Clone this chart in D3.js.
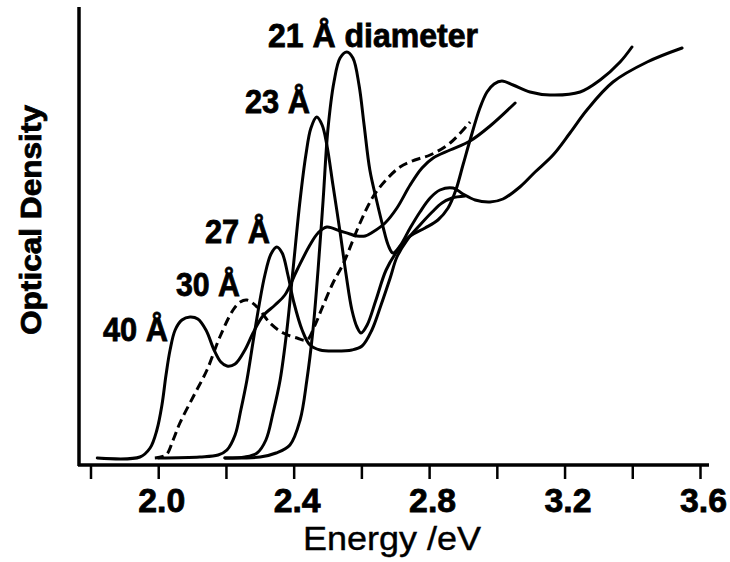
<!DOCTYPE html>
<html>
<head>
<meta charset="utf-8">
<script src="https://cdn.jsdelivr.net/npm/d3@7"></script>
<style>
  html, body { margin: 0; padding: 0; background: #fff; }
  svg { display: block; }
  text { font-family: "Liberation Sans", Arial, sans-serif; fill: #000; }
</style>
</head>
<body>
<svg id="chart" width="730" height="562"></svg>
<script>
// Absorption spectra of nanocrystals of several diameters: [energy (eV), optical density (arb.)]
const spec40 = [
  [1.82,0.07],[1.946,0.08],[1.976,0.17],[1.996,0.35],[2.011,0.60],[2.023,0.90],
  [2.035,1.15],[2.050,1.35],[2.070,1.45],[2.094,1.48],[2.117,1.46],[2.141,1.35],
  [2.165,1.15],[2.185,1.03],[2.203,0.99],[2.227,1.01],[2.256,1.15],[2.280,1.32],
  [2.309,1.49],[2.345,1.60],[2.374,1.70],[2.410,1.95],[2.448,2.20],[2.472,2.32],
  [2.498,2.38],[2.537,2.34],[2.566,2.31],[2.587,2.29],[2.611,2.29],[2.634,2.33],
  [2.670,2.42],[2.705,2.57],[2.744,2.80],[2.779,2.97],[2.812,3.07],[2.862,3.15],
  [2.921,3.24],[2.980,3.39],[3.054,3.62]
];
const spec30 = [
  [1.990,0.07],[2.023,0.10],[2.044,0.25],[2.064,0.42],[2.103,0.68],[2.144,0.95],
  [2.182,1.28],[2.221,1.55],[2.242,1.63],[2.262,1.65],[2.292,1.58],[2.330,1.42],
  [2.369,1.32],[2.410,1.27],[2.439,1.25],[2.463,1.40],[2.484,1.57],[2.516,1.82],
  [2.546,2.01],[2.596,2.42],[2.634,2.68],[2.670,2.84],[2.714,2.98],[2.758,3.05],
  [2.803,3.10],[2.862,3.22],[2.921,3.43]
];
const spec27 = [
  [2.000,0.07],[2.123,0.08],[2.177,0.10],[2.203,0.15],[2.227,0.30],[2.244,0.55],
  [2.262,0.85],[2.280,1.23],[2.298,1.60],[2.315,1.90],[2.333,2.11],[2.350,2.18],
  [2.366,2.12],[2.383,1.90],[2.401,1.62],[2.425,1.35],[2.448,1.20],[2.478,1.15],
  [2.522,1.14],[2.572,1.15],[2.602,1.19],[2.631,1.35],[2.658,1.60],[2.685,1.87],
  [2.705,2.08],[2.735,2.25],[2.773,2.40],[2.809,2.53],[2.838,2.62],[2.868,2.67],
  [2.906,2.69]
];
const spec23 = [
  [2.197,0.07],[2.256,0.08],[2.292,0.12],[2.318,0.25],[2.339,0.52],[2.360,0.85],
  [2.380,1.35],[2.398,1.95],[2.419,2.65],[2.436,3.10],[2.451,3.37],[2.468,3.48],
  [2.484,3.40],[2.498,3.20],[2.516,2.80],[2.537,2.33],[2.555,1.90],[2.572,1.55],
  [2.587,1.38],[2.599,1.32],[2.617,1.40],[2.643,1.65],[2.673,1.95],[2.708,2.15],
  [2.744,2.29],[2.788,2.37],[2.826,2.45],[2.856,2.57],[2.879,2.75],[2.900,3.00],
  [2.921,3.25],[2.950,3.57],[2.971,3.73],[2.992,3.81],[3.015,3.84],[3.048,3.80],
  [3.098,3.73],[3.157,3.70],[3.246,3.73],[3.305,3.85],[3.364,4.03],[3.399,4.18]
];
const spec21 = [
  [2.197,0.07],[2.301,0.08],[2.348,0.12],[2.389,0.20],[2.419,0.45],[2.439,0.85],
  [2.457,1.35],[2.472,1.95],[2.487,2.65],[2.501,3.35],[2.519,3.83],[2.537,4.07],
  [2.557,4.13],[2.575,4.07],[2.593,3.80],[2.608,3.40],[2.625,2.95],[2.646,2.63],
  [2.664,2.38],[2.679,2.20],[2.693,2.12],[2.714,2.19],[2.744,2.37],[2.773,2.53],
  [2.803,2.67],[2.832,2.75],[2.871,2.77],[2.900,2.71],[2.936,2.65],[2.980,2.63],
  [3.018,2.66],[3.068,2.78],[3.113,2.93],[3.166,3.10],[3.216,3.32],[3.266,3.55],
  [3.343,3.83],[3.444,4.03],[3.547,4.17]
];

const seriesNames = ["40 Å", "30 Å", "27 Å", "23 Å", "21 Å diameter"];
const xTickValues = [1.8, 2.0, 2.2, 2.4, 2.6, 2.8, 3.0, 3.2, 3.4, 3.6];
const xTickLabels = ["", "2.0", "", "2.4", "", "2.8", "", "3.2", "", "3.6"];
const xTitle = "Energy /eV";
const yTitle = "Optical Density";

const svg = d3.select("#chart");
const x = d3.scaleLinear().domain([1.8, 3.6]).range([90.5, 700]);
const y = d3.scaleLinear().domain([0, 4.58]).range([465, 7]);

const line = d3.line()
  .x(d => x(d[0]))
  .y(d => y(d[1]))
  .curve(d3.curveCatmullRom.alpha(0.5));

// spectra
const curves = [
  { data: spec40, dashed: false },
  { data: spec30, dashed: true },
  { data: spec27, dashed: false },
  { data: spec23, dashed: false },
  { data: spec21, dashed: false }
];
svg.append("g").selectAll("path")
  .data(curves)
  .join("path")
  .attr("d", d => line(d.data))
  .attr("fill", "none")
  .attr("stroke", "#000")
  .attr("stroke-width", 3)
  .attr("stroke-linejoin", "round")
  .attr("stroke-linecap", d => d.dashed ? "butt" : "round")
  .attr("stroke-dasharray", d => d.dashed ? "9,5" : null);

// axes frame
svg.append("line")
  .attr("x1", 78).attr("x2", 709).attr("y1", 465).attr("y2", 465)
  .attr("stroke", "#000").attr("stroke-width", 3.5);
svg.append("line")
  .attr("x1", 79).attr("x2", 79).attr("y1", 7).attr("y2", 466)
  .attr("stroke", "#000").attr("stroke-width", 3.5);

// bottom axis: ticks every 0.2 eV, labels every 0.4 eV
const xAxis = d3.axisBottom(x)
  .tickValues(xTickValues)
  .tickSize(14)
  .tickSizeOuter(0)
  .tickFormat((d, i) => xTickLabels[i]);
const gx = svg.append("g").attr("transform", "translate(0,465)").call(xAxis);
gx.select(".domain").remove();
gx.selectAll(".tick line").attr("stroke", "#000").attr("stroke-width", 2.5);
gx.selectAll(".tick text")
  .attr("y", 47).attr("dy", 0).attr("dx", 3)
  .attr("font-size", 34).attr("font-weight", "bold")
  .attr("font-family", "'Liberation Sans', Arial, sans-serif")
  .attr("fill", "#000")
  .attr("stroke", "#000").attr("stroke-width", 0.8)
  .each(function () {
    if (this.textContent) d3.select(this).attr("textLength", 47).attr("lengthAdjust", "spacingAndGlyphs");
  });

// axis titles
svg.append("text")
  .attr("x", 392).attr("y", 550)
  .attr("text-anchor", "middle")
  .attr("font-size", 34)
  .attr("stroke", "#000").attr("stroke-width", 0.4)
  .attr("textLength", 178).attr("lengthAdjust", "spacingAndGlyphs")
  .text(xTitle);
svg.append("text")
  .attr("transform", "translate(41,220) rotate(-90)")
  .attr("text-anchor", "middle")
  .attr("font-size", 30).attr("font-weight", "bold")
  .attr("stroke", "#000").attr("stroke-width", 0.8)
  .attr("textLength", 230).attr("lengthAdjust", "spacingAndGlyphs")
  .text(yTitle);

// size labels
const labelLayout = [
  { x: 103, y: 341, w: 65 },
  { x: 176, y: 296, w: 64 },
  { x: 205, y: 243, w: 65 },
  { x: 245, y: 113, w: 65 },
  { x: 268, y: 47, w: 210 }
];
svg.append("g").selectAll("text")
  .data(seriesNames)
  .join("text")
  .attr("x", (d, i) => labelLayout[i].x)
  .attr("y", (d, i) => labelLayout[i].y)
  .attr("font-size", 33).attr("font-weight", "bold")
  .attr("stroke", "#000").attr("stroke-width", 0.8)
  .attr("textLength", (d, i) => labelLayout[i].w)
  .attr("lengthAdjust", "spacingAndGlyphs")
  .text(d => d);
</script>
</body>
</html>
